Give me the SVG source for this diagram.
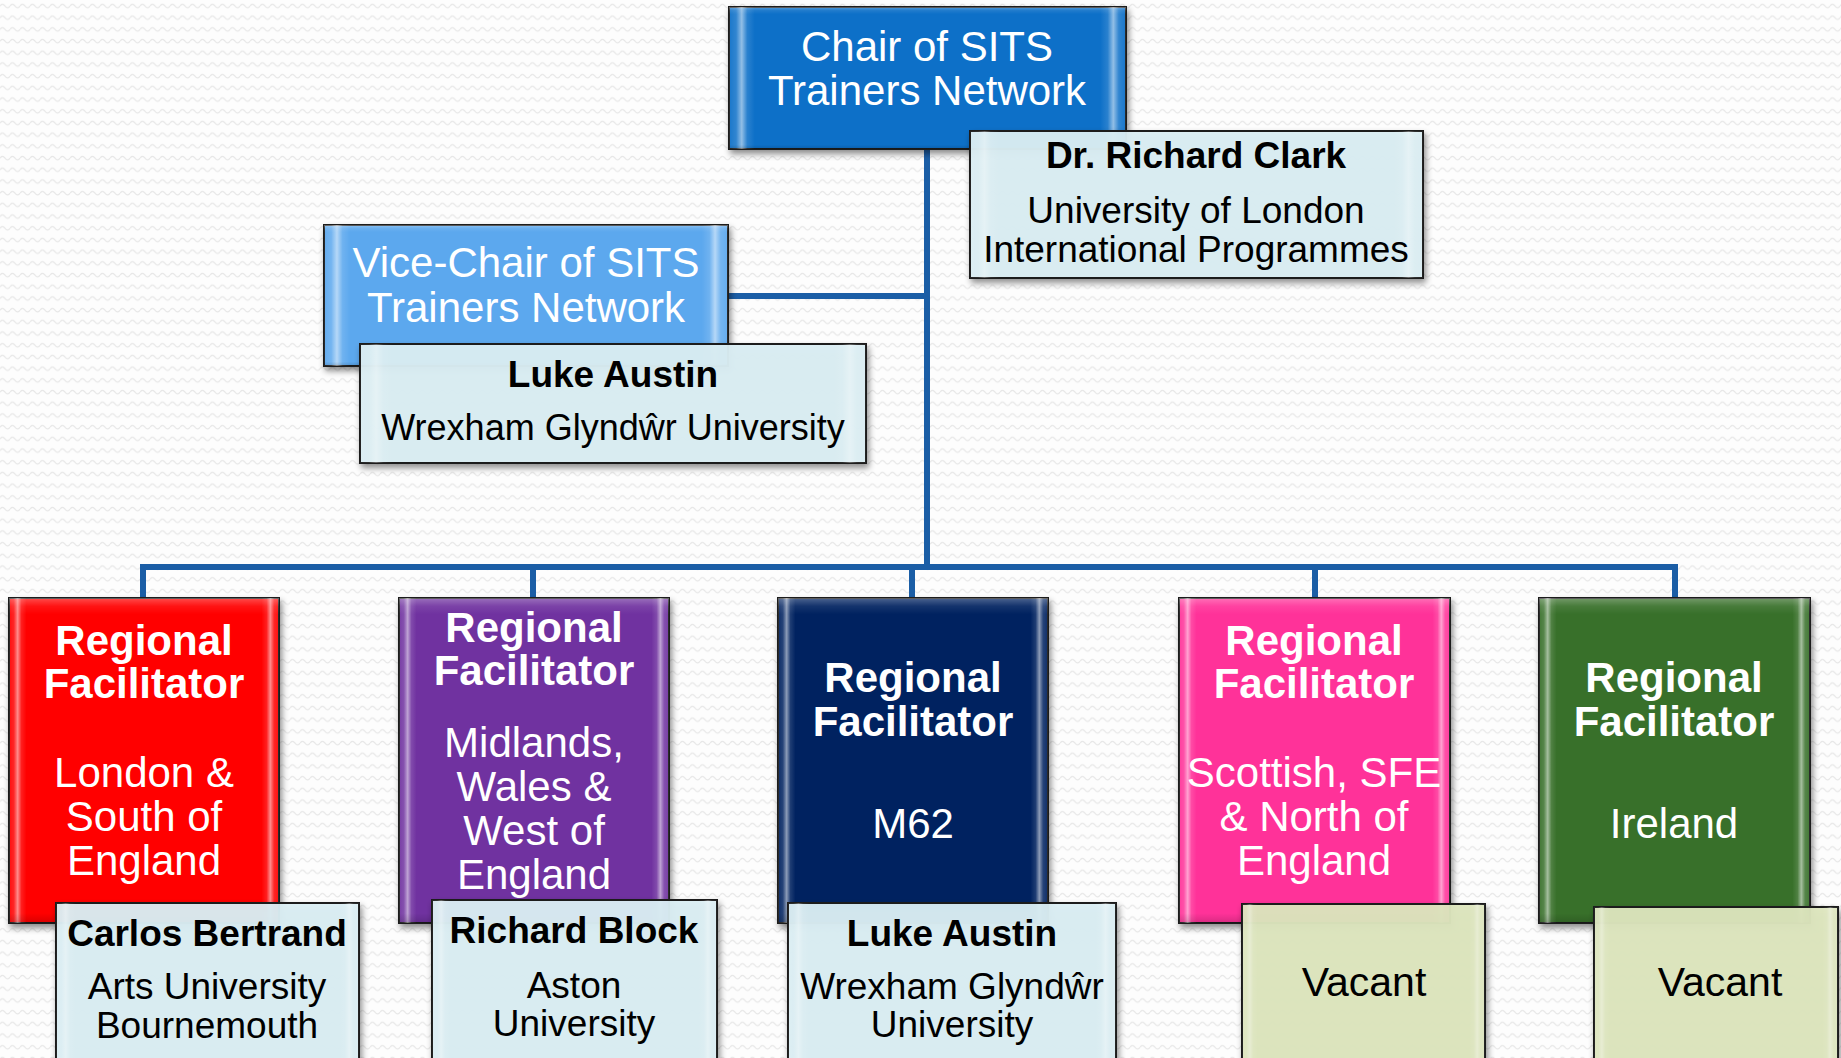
<svg xmlns="http://www.w3.org/2000/svg" width="1841" height="1058" viewBox="0 0 1841 1058">
<defs>
  <pattern id="bgp" width="10" height="11.7" patternUnits="userSpaceOnUse">
    <rect width="10" height="11.7" fill="#fdfdfd"/>
    <path d="M0 6 Q2.5 2.5 5 6 T10 6" fill="none" stroke="#e8e8e8" stroke-width="1.2"/>
  </pattern>
  <linearGradient id="bevH" x1="0" y1="0" x2="1" y2="0">
    <stop offset="0" stop-color="#fff" stop-opacity="0.05"/>
    <stop offset="0.018" stop-color="#fff" stop-opacity="0.15"/>
    <stop offset="0.032" stop-color="#fff" stop-opacity="0.55"/>
    <stop offset="0.046" stop-color="#fff" stop-opacity="0.12"/>
    <stop offset="0.065" stop-color="#fff" stop-opacity="0"/>
    <stop offset="0.935" stop-color="#fff" stop-opacity="0"/>
    <stop offset="0.954" stop-color="#fff" stop-opacity="0.12"/>
    <stop offset="0.968" stop-color="#fff" stop-opacity="0.55"/>
    <stop offset="0.982" stop-color="#fff" stop-opacity="0.15"/>
    <stop offset="1" stop-color="#fff" stop-opacity="0.05"/>
  </linearGradient>
  <linearGradient id="bevV" x1="0" y1="0" x2="0" y2="1">
    <stop offset="0" stop-color="#fff" stop-opacity="0.3"/>
    <stop offset="0.025" stop-color="#fff" stop-opacity="0.08"/>
    <stop offset="0.05" stop-color="#fff" stop-opacity="0"/>
    <stop offset="0.97" stop-color="#000" stop-opacity="0"/>
    <stop offset="1" stop-color="#000" stop-opacity="0.15"/>
  </linearGradient>
  <filter id="sh" x="-10%" y="-10%" width="125%" height="125%">
    <feDropShadow dx="2" dy="4" stdDeviation="3" flood-color="#000" flood-opacity="0.45"/>
  </filter>
  <style>
    .box { stroke: #1e1e1e; stroke-width: 2; filter: url(#sh); }
    .bh { fill: url(#bevH); }
    .bv { fill: url(#bevV); }
    .card { fill: #DAEEF3; fill-opacity: 0.95; stroke: #1e1e1e; stroke-width: 2; filter: url(#sh); }
    .vac { fill: #DDE6BE; fill-opacity: 0.95; stroke: #1e1e1e; stroke-width: 2; filter: url(#sh); }
    .cbev { fill: url(#bevH); opacity: 0.6; }
    text { font-family: "Liberation Sans", Arial, sans-serif; text-anchor: middle; }
    .w42 { fill: #fff; font-size: 42px; }
    .wb42 { fill: #fff; font-size: 42px; font-weight: bold; }
    .k37 { fill: #000; font-size: 37px; }
    .kb37 { fill: #000; font-size: 37px; font-weight: bold; }
    .k36 { fill: #000; font-size: 36px; }
    .k41 { fill: #000; font-size: 41px; }
    .conn { stroke: #1B5EA6; stroke-width: 6; fill: none; }
  </style>
</defs>
<rect width="1841" height="1058" fill="url(#bgp)"/>

<g id="connectors">
  <line class="conn" x1="927" y1="140" x2="927" y2="570"/>
  <line class="conn" x1="720" y1="296" x2="927" y2="296"/>
  <line class="conn" x1="140" y1="567" x2="1678" y2="567"/>
  <line class="conn" x1="143" y1="567" x2="143" y2="600"/>
  <line class="conn" x1="533" y1="567" x2="533" y2="600"/>
  <line class="conn" x1="912" y1="567" x2="912" y2="600"/>
  <line class="conn" x1="1315" y1="567" x2="1315" y2="600"/>
  <line class="conn" x1="1675" y1="567" x2="1675" y2="600"/>
</g>

<g id="chair">
  <rect class="box" x="729" y="7" width="397" height="142" fill="#1070C8"/>
  <rect class="bh" x="729" y="7" width="397" height="142"/>
  <rect class="bv" x="729" y="7" width="397" height="142"/>
  <text class="w42" x="927" y="61">Chair of SITS</text>
  <text class="w42" x="927" y="105">Trainers Network</text>
</g>
<g id="chair-person">
  <rect class="card" x="970" y="131" width="453" height="147"/>
  <rect class="cbev" x="970" y="131" width="453" height="147"/>
  <text class="kb37" x="1196" y="168">Dr. Richard Clark</text>
  <text class="k37" x="1196" y="223">University of London</text>
  <text class="k37" x="1196" y="262">International Programmes</text>
</g>

<g id="vice-chair">
  <rect class="box" x="324" y="225" width="404" height="141" fill="#5BA8EE"/>
  <rect class="bh" x="324" y="225" width="404" height="141"/>
  <rect class="bv" x="324" y="225" width="404" height="141"/>
  <text class="w42" x="526" y="277">Vice-Chair of SITS</text>
  <text class="w42" x="526" y="322">Trainers Network</text>
</g>
<g id="vice-chair-person">
  <rect class="card" x="360" y="344" width="506" height="119"/>
  <rect class="cbev" x="360" y="344" width="506" height="119"/>
  <text class="kb37" x="613" y="387">Luke Austin</text>
  <text class="k36" x="613" y="440">Wrexham Glyndŵr University</text>
</g>

<g id="rf-london">
  <rect class="box" x="9" y="598" width="270" height="325" fill="#FF0000"/>
  <rect class="bh" x="9" y="598" width="270" height="325"/>
  <rect class="bv" x="9" y="598" width="270" height="325"/>
  <text class="wb42" x="144" y="655">Regional</text>
  <text class="wb42" x="144" y="698">Facilitator</text>
  <text class="w42" x="144" y="787">London &amp;</text>
  <text class="w42" x="144" y="831">South of</text>
  <text class="w42" x="144" y="875">England</text>
</g>
<g id="rf-london-person">
  <rect class="card" x="56" y="903" width="303" height="175"/>
  <rect class="cbev" x="56" y="903" width="303" height="175"/>
  <text class="kb37" x="207" y="946">Carlos Bertrand</text>
  <text class="k37" x="207" y="999">Arts University</text>
  <text class="k37" x="207" y="1038">Bournemouth</text>
</g>

<g id="rf-midlands">
  <rect class="box" x="399" y="598" width="270" height="325" fill="#7030A0"/>
  <rect class="bh" x="399" y="598" width="270" height="325"/>
  <rect class="bv" x="399" y="598" width="270" height="325"/>
  <text class="wb42" x="534" y="642">Regional</text>
  <text class="wb42" x="534" y="685">Facilitator</text>
  <text class="w42" x="534" y="757">Midlands,</text>
  <text class="w42" x="534" y="801">Wales &amp;</text>
  <text class="w42" x="534" y="845">West of</text>
  <text class="w42" x="534" y="889">England</text>
</g>
<g id="rf-midlands-person">
  <rect class="card" x="432" y="900" width="285" height="178"/>
  <rect class="cbev" x="432" y="900" width="285" height="178"/>
  <text class="kb37" x="574" y="943">Richard Block</text>
  <text class="k37" x="574" y="998">Aston</text>
  <text class="k37" x="574" y="1036">University</text>
</g>

<g id="rf-m62">
  <rect class="box" x="778" y="598" width="270" height="325" fill="#002060"/>
  <rect class="bh" x="778" y="598" width="270" height="325"/>
  <rect class="bv" x="778" y="598" width="270" height="325"/>
  <text class="wb42" x="913" y="692">Regional</text>
  <text class="wb42" x="913" y="736">Facilitator</text>
  <text class="w42" x="913" y="838">M62</text>
</g>
<g id="rf-m62-person">
  <rect class="card" x="788" y="903" width="328" height="175"/>
  <rect class="cbev" x="788" y="903" width="328" height="175"/>
  <text class="kb37" x="952" y="946">Luke Austin</text>
  <text class="k37" x="952" y="999">Wrexham Glyndŵr</text>
  <text class="k37" x="952" y="1037">University</text>
</g>

<g id="rf-scottish">
  <rect class="box" x="1179" y="598" width="271" height="325" fill="#FF3399"/>
  <rect class="bh" x="1179" y="598" width="271" height="325"/>
  <rect class="bv" x="1179" y="598" width="271" height="325"/>
  <text class="wb42" x="1314" y="655">Regional</text>
  <text class="wb42" x="1314" y="698">Facilitator</text>
  <text class="w42" x="1314" y="787">Scottish, SFE</text>
  <text class="w42" x="1314" y="831">&amp; North of</text>
  <text class="w42" x="1314" y="875">England</text>
</g>
<g id="rf-scottish-person">
  <rect class="vac" x="1242" y="904" width="243" height="174"/>
  <rect class="cbev" x="1242" y="904" width="243" height="174"/>
  <text class="k41" x="1364" y="996">Vacant</text>
</g>

<g id="rf-ireland">
  <rect class="box" x="1539" y="598" width="271" height="325" fill="#38702A"/>
  <rect class="bh" x="1539" y="598" width="271" height="325"/>
  <rect class="bv" x="1539" y="598" width="271" height="325"/>
  <text class="wb42" x="1674" y="692">Regional</text>
  <text class="wb42" x="1674" y="736">Facilitator</text>
  <text class="w42" x="1674" y="838">Ireland</text>
</g>
<g id="rf-ireland-person">
  <rect class="vac" x="1594" y="907" width="244" height="171"/>
  <rect class="cbev" x="1594" y="907" width="244" height="171"/>
  <text class="k41" x="1720" y="996">Vacant</text>
</g>
</svg>
